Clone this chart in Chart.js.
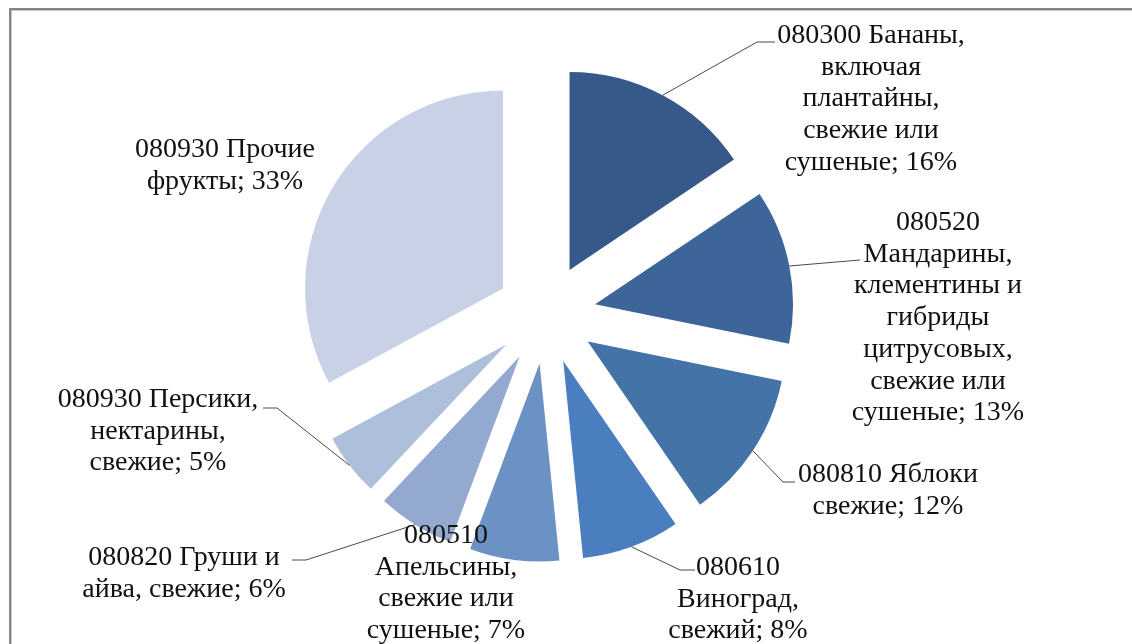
<!DOCTYPE html>
<html>
<head>
<meta charset="utf-8">
<script src="https://cdn.jsdelivr.net/npm/chart.js@4"></script>
<style>
	html, body { margin: 0; padding: 0; background: #fff; }
	#wrap { position: relative; width: 1132px; height: 644px; overflow: hidden; }
	#frame { position: absolute; left: 9px; top: 8px; right: 0; bottom: 0; border-top: 2px solid #858585; border-left: 2px solid #858585; box-shadow: inset 1px 1px 0 #c4c4c4; }
	#chart { position: absolute; left: 0; top: 0; }
</style>
</head>
<body>
<div id="wrap">
	<div id="frame"></div>
	<canvas id="chart" width="1132" height="644"></canvas>
</div>
<script>
// данные
var codes = ['080300', '080520', '080810', '080610', '080510', '080820', '080930', '080930'];
var shares = [15.6, 12.6, 12.2, 8.0, 7.3, 6.3, 5.1, 32.9];
var labelLines = [
	['080300 Бананы,', 'включая', 'плантайны,', 'свежие или', 'сушеные'],
	['080520', 'Мандарины,', 'клементины и', 'гибриды', 'цитрусовых,', 'свежие или', 'сушеные'],
	['080810 Яблоки', 'свежие'],
	['080610', 'Виноград,', 'свежий'],
	['080510', 'Апельсины,', 'свежие или', 'сушеные'],
	['080820 Груши и', 'айва, свежие'],
	['080930 Персики,', 'нектарины,', 'свежие'],
	['080930 Прочие', 'фрукты']
];
var colors = ['#36598a', '#3d659a', '#4473a8', '#4a7ebe', '#6b91c5', '#94a9cf', '#adbfdb', '#c8d1e5'];

// расположение подписей: центр строки и базовая линия первой строки
var labelPos = [[871, 43], [938, 230], [888, 482], [738, 575], [446, 543], [184, 565], [158, 407], [225, 157]];
// выноски: точки после точки на дуге
var leaders = [
	[[757, 42], [775, 42]],
	[[860, 260]],
	[[783, 482], [795, 482]],
	[[680, 570], [695, 570]],
	null,
	[[306, 560], [292, 560]],
	[[277, 408], [263, 408]],
	null
];
var SHIFT = 50;
var LINE_H = 31.7;

var explodePlugin = {
	id: 'explode',
	beforeDatasetDraw: function (chart, args) {
		var ctx = chart.ctx;
		args.meta.data.forEach(function (arc) {
			var mid = (arc.startAngle + arc.endAngle) / 2;
			ctx.save();
			ctx.translate(Math.cos(mid) * SHIFT, Math.sin(mid) * SHIFT);
			arc.draw(ctx);
			ctx.restore();
		});
		return false;
	},
	afterDraw: function (chart) {
		var ctx = chart.ctx;
		var arcs = chart.getDatasetMeta(0).data;
		ctx.save();
		ctx.strokeStyle = '#4a4a4a';
		ctx.lineWidth = 1;
		arcs.forEach(function (arc, i) {
			if (!leaders[i]) return;
			var mid = (arc.startAngle + arc.endAngle) / 2;
			var r = arc.outerRadius + SHIFT;
			ctx.beginPath();
			ctx.moveTo(arc.x + Math.cos(mid) * r, arc.y + Math.sin(mid) * r);
			leaders[i].forEach(function (p) { ctx.lineTo(p[0], p[1]); });
			ctx.stroke();
		});
		ctx.fillStyle = '#111';
		ctx.font = '28px "Liberation Serif", "Times New Roman", serif';
		ctx.textAlign = 'center';
		ctx.textBaseline = 'alphabetic';
		labelLines.forEach(function (lines, i) {
			var pct = Math.round(shares[i]);
			lines.forEach(function (line, k) {
				var txt = k === lines.length - 1 ? line + '; ' + pct + '%' : line;
				ctx.fillText(txt, labelPos[i][0], labelPos[i][1] + k * LINE_H);
			});
		});
		ctx.restore();
	}
};

new Chart(document.getElementById('chart'), {
	type: 'pie',
	data: {
		labels: labelLines.map(function (l) { return l.join(' '); }),
		datasets: [{
			data: shares,
			backgroundColor: colors,
			borderWidth: 0,
			radius: 198
		}]
	},
	options: {
		responsive: false,
		animation: false,
		events: [],
		layout: { padding: { left: 0, right: 40, top: 0, bottom: 16 } },
		plugins: {
			legend: { display: false },
			tooltip: { enabled: false }
		}
	},
	plugins: [explodePlugin]
});
</script>
</body>
</html>
